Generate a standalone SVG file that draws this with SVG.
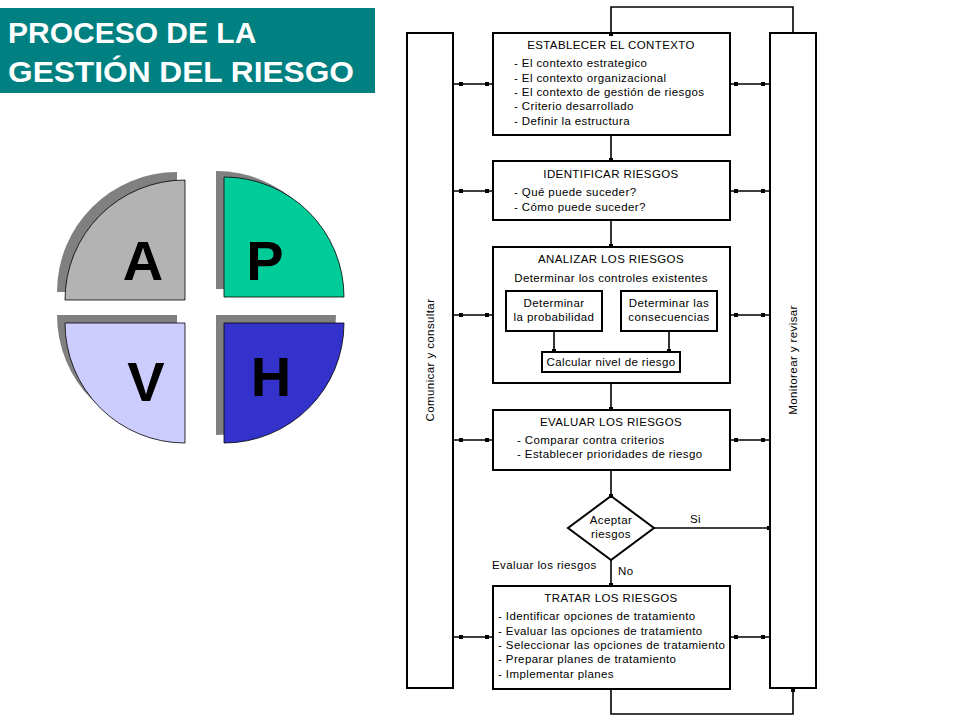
<svg xmlns="http://www.w3.org/2000/svg" width="960" height="720" viewBox="0 0 960 720">
<style>
.b{fill:#fff;stroke:#000;stroke-width:2}
.c{stroke:#000;stroke-width:1.6;fill:none}
.t{font-family:"Liberation Sans",Arial,sans-serif;font-size:11.5px;fill:#000;letter-spacing:0.4px}
.m{text-anchor:middle}
.L{font-family:"Liberation Sans",Arial,sans-serif;font-size:56px;font-weight:bold;fill:#000;text-anchor:middle}
.sh{fill:#808080}
</style>
<defs>
<marker id="sq" viewBox="0 0 4 4" refX="2" refY="2" markerWidth="4" markerHeight="4" markerUnits="userSpaceOnUse"><rect width="4" height="4" fill="#000"/></marker>
</defs>
<rect x="0" y="8" width="375" height="85" fill="#008080"/>
<g font-family="Liberation Sans,Arial,sans-serif" font-size="30" font-weight="bold" fill="#fff">
<text x="8" y="43">PROCESO  DE LA</text>
<text x="8" y="82" textLength="346" lengthAdjust="spacingAndGlyphs">GESTIÓN DEL RIESGO</text>
</g>
<g id="pdca">
<path class="sh" d="M177,292 L57,292 A120,120 0 0 1 177,172 Z"/>
<path d="M185,300 L65,300 A120,120 0 0 1 185,180 Z" fill="#b3b3b3" stroke="#000" stroke-width="0.8"/>
<path class="sh" d="M216,289 L216,171 A120,120 0 0 1 336,291 Z"/>
<path d="M224,297 L224,177 A120,120 0 0 1 344,297 Z" fill="#00cc99" stroke="#000" stroke-width="0.8"/>
<path class="sh" d="M177,315 L57,315 A120,120 0 0 0 177,435 Z"/>
<path d="M185,323 L65,323 A120,120 0 0 0 185,443 Z" fill="#ccccff" stroke="#000" stroke-width="0.8"/>
<path class="sh" d="M216,315 L336,315 A120,120 0 0 1 216,435 Z"/>
<path d="M224,323 L344,323 A120,120 0 0 1 224,443 Z" fill="#3333cc" stroke="#000" stroke-width="0.8"/>
<text class="L" x="143" y="280">A</text>
<text class="L" x="265" y="280">P</text>
<text class="L" x="146" y="401">V</text>
<text class="L" x="271" y="396">H</text>
</g>
<g id="comunicar"><rect class="b" x="407" y="33" width="46" height="655"/>
<text class="t m" transform="translate(434,360) rotate(-90)">Comunicar y consultar</text></g>
<g id="monitorear"><rect class="b" x="770" y="33" width="46" height="655"/>
<text class="t m" transform="translate(797,360) rotate(-90)">Monitorear y revisar</text></g>
<g id="contexto"><rect class="b" x="493" y="33" width="237" height="102"/>
<text class="t m" x="611" y="49">ESTABLECER EL CONTEXTO</text>
<text class="t" x="514" y="67">- El contexto estrategico</text>
<text class="t" x="514" y="82">- El contexto organizacional</text>
<text class="t" x="514" y="96">- El contexto de gestión de riesgos</text>
<text class="t" x="514" y="110">- Criterio desarrollado</text>
<text class="t" x="514" y="125">- Definir la estructura</text></g>
<g id="identificar"><rect class="b" x="493" y="161" width="237" height="59"/>
<text class="t m" x="611" y="178">IDENTIFICAR RIESGOS</text>
<text class="t" x="514" y="196">- Qué puede suceder?</text>
<text class="t" x="514" y="211">- Cómo puede suceder?</text></g>
<g id="analizar"><rect class="b" x="493" y="247" width="237" height="136"/>
<text class="t m" x="611" y="263">ANALIZAR LOS RIESGOS</text>
<text class="t m" x="611" y="282">Determinar los controles existentes</text></g>
<g id="probabilidad"><rect class="b" x="506" y="291" width="96" height="40"/>
<text class="t m" x="554" y="307">Determinar</text>
<text class="t m" x="554" y="321">la probabilidad</text></g>
<g id="consecuencias"><rect class="b" x="621" y="291" width="96" height="40"/>
<text class="t m" x="669" y="307">Determinar las</text>
<text class="t m" x="669" y="321">consecuencias</text></g>
<g id="calcular"><rect class="b" x="542" y="352" width="138" height="20"/>
<text class="t m" x="611" y="366">Calcular nivel de riesgo</text></g>
<g id="evaluar"><rect class="b" x="493" y="410" width="237" height="60"/>
<text class="t m" x="611" y="426">EVALUAR LOS RIESGOS</text>
<text class="t" x="517" y="444">- Comparar contra criterios</text>
<text class="t" x="517" y="458">- Establecer prioridades de riesgo</text></g>
<g id="aceptar"><polygon class="b" points="611,496 654,528 611,560 568,528"/>
<text class="t m" x="611" y="524">Aceptar</text>
<text class="t m" x="611" y="538">riesgos</text></g>
<text class="t" x="690" y="523">Si</text>
<text class="t" x="618" y="575">No</text>
<text class="t" x="492" y="569">Evaluar los riesgos</text>
<g id="tratar"><rect class="b" x="493" y="586" width="237" height="103"/>
<text class="t m" x="611" y="602">TRATAR LOS RIESGOS</text>
<text class="t" x="498" y="620">- Identificar opciones de tratamiento</text>
<text class="t" x="498" y="635">- Evaluar las opciones de tratamiento</text>
<text class="t" x="498" y="649">- Seleccionar las opciones de tratamiento</text>
<text class="t" x="498" y="663">- Preparar planes de tratamiento</text>
<text class="t" x="498" y="678">- Implementar planes</text></g>
<g id="connectors">
<path class="c" d="M611,34 V7 H793 V33" marker-start="url(#sq)"/>
<path class="c" d="M611,690 V714 H793 V690" marker-end="url(#sq)"/>
<path class="c" d="M611,136 V160" marker-end="url(#sq)"/>
<path class="c" d="M611,221 V246" marker-end="url(#sq)"/>
<path class="c" d="M611,384 V409" marker-end="url(#sq)"/>
<path class="c" d="M611,471 V496" marker-end="url(#sq)"/>
<path class="c" d="M611,560 V585" marker-end="url(#sq)"/>
<path class="c" d="M654,528 H769" marker-end="url(#sq)"/>
<path class="c" d="M554,332 V351" marker-end="url(#sq)"/>
<path class="c" d="M669,332 V351" marker-end="url(#sq)"/>
<path class="c" d="M454,84 H492 M731,84 H769 M454,191 H492 M731,191 H769 M454,315 H492 M731,315 H769 M454,440 H492 M731,440 H769 M454,637 H492 M731,637 H769"/>
<g fill="#000">
<rect x="459" y="82" width="4" height="4"/><rect x="485" y="82" width="4" height="4"/><rect x="734" y="82" width="4" height="4"/><rect x="761" y="82" width="4" height="4"/>
<rect x="459" y="189" width="4" height="4"/><rect x="485" y="189" width="4" height="4"/><rect x="734" y="189" width="4" height="4"/><rect x="761" y="189" width="4" height="4"/>
<rect x="459" y="313" width="4" height="4"/><rect x="485" y="313" width="4" height="4"/><rect x="734" y="313" width="4" height="4"/><rect x="761" y="313" width="4" height="4"/>
<rect x="459" y="438" width="4" height="4"/><rect x="485" y="438" width="4" height="4"/><rect x="734" y="438" width="4" height="4"/><rect x="761" y="438" width="4" height="4"/>
<rect x="459" y="635" width="4" height="4"/><rect x="485" y="635" width="4" height="4"/><rect x="734" y="635" width="4" height="4"/><rect x="761" y="635" width="4" height="4"/>
</g>
</g>
</svg>
